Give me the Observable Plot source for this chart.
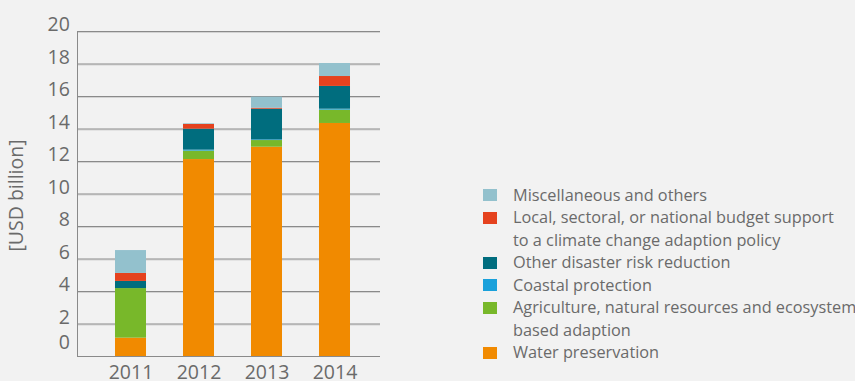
<!DOCTYPE html>
<html>
<head>
<meta charset="utf-8">
<script src="https://cdn.jsdelivr.net/npm/d3@7"></script>
<script src="https://cdn.jsdelivr.net/npm/@observablehq/plot@0.6"></script>
<style>
  html, body { margin: 0; padding: 0; background: #f2f2f2; overflow: hidden; }
  #wrap { position: relative; width: 855px; height: 381px; font-family: "Open Sans", sans-serif; color: #6a6a6a; }
  #legend { position: absolute; left: 483px; top: 183.75px; font-size: 16.3px; line-height: 22.5px; white-space: pre; }
  .item { position: relative; padding-left: 30px; }
  .sw { position: absolute; left: 0; top: 5.25px; width: 14px; height: 12px; }
</style>
</head>
<body>
<div id="wrap"><div id="legend"></div></div>
<script>
// Adaptation finance by year, USD billion
const years = ["2011", "2012", "2013", "2014"];

const seriesNames = [
  "Water preservation",
  "Agriculture, natural resources and ecosystem\nbased adaption",
  "Coastal protection",
  "Other disaster risk reduction",
  "Local, sectoral, or national budget support\nto a climate change adaption policy",
  "Miscellaneous and others"
];
const seriesColors = ["#f18a00", "#78b82a", "#1aa1db", "#006d7e", "#e5421e", "#93c1cd"];

const water    = [1.13, 12.12, 12.88, 14.34];
const agri     = [3.05, 0.52, 0.41, 0.82];
const coastal  = [0.00, 0.06, 0.04, 0.06];
const drr      = [0.44, 1.29, 1.89, 1.40];
const budget   = [0.49, 0.29, 0.06, 0.61];
const misc     = [1.41, 0.04, 0.68, 0.80];

const gridTicks = [2, 4, 6, 8, 10, 12, 14, 16, 18, 20];
const zeroTick = [0];

const valuesBySeries = [water, agri, coastal, drr, budget, misc];
const rows = [];
seriesNames.forEach((s, si) => {
  years.forEach((y, yi) => rows.push({year: y, series: s, value: valuesBySeries[si][yi]}));
});

const grid = "#8a8a8a";
const gridShade = "#d3d3d3";

const chart = Plot.plot({
  width: 855,
  height: 381,
  marginLeft: 77,
  marginRight: 475,
  marginTop: 31,
  marginBottom: 25,
  style: {background: "#f2f2f2", color: "#6a6a6a", fontFamily: "Open Sans, sans-serif", overflow: "visible"},
  x: {type: "band", domain: years, range: [96.5, 368.5], paddingInner: 0.544, paddingOuter: 0.272, round: false, axis: null},
  y: {domain: [0, 20], axis: null},
  color: {domain: seriesNames, range: seriesColors},
  marks: [
    Plot.ruleY(gridTicks, {stroke: gridShade, dy: 1}),
    Plot.ruleY(gridTicks, {stroke: grid}),
    Plot.ruleY(zeroTick, {stroke: grid}),
    Plot.frame({anchor: "left", stroke: grid}),
    Plot.barY(rows, {x: "year", y: "value", fill: "series", order: seriesNames}),
    Plot.axisY({ticks: gridTicks, tickSize: 0, tickPadding: 7.7, fontSize: 19.5, dy: -6.5, label: null}),
    Plot.axisY({ticks: zeroTick, tickSize: 0, tickPadding: 7.7, fontSize: 19.5, dy: -13.3, label: null}),
    Plot.axisX({tickSize: 0, tickPadding: 8.5, fontSize: 19.5, label: null}),
    Plot.text(["[USD billion]"], {frameAnchor: "left", textAnchor: "middle", dx: -61, dy: 1.5, rotate: -90, fontSize: 19.5, fill: "#6a6a6a"})
  ]
});

document.getElementById("wrap").prepend(chart);

// Legend, top series first
const legend = d3.select("#legend");
for (let i = seriesNames.length - 1; i >= 0; i--) {
  const item = legend.append("div").attr("class", "item");
  item.append("span").attr("class", "sw").style("background", seriesColors[i]);
  item.append("span").text(seriesNames[i]);
}
</script>
</body>
</html>
